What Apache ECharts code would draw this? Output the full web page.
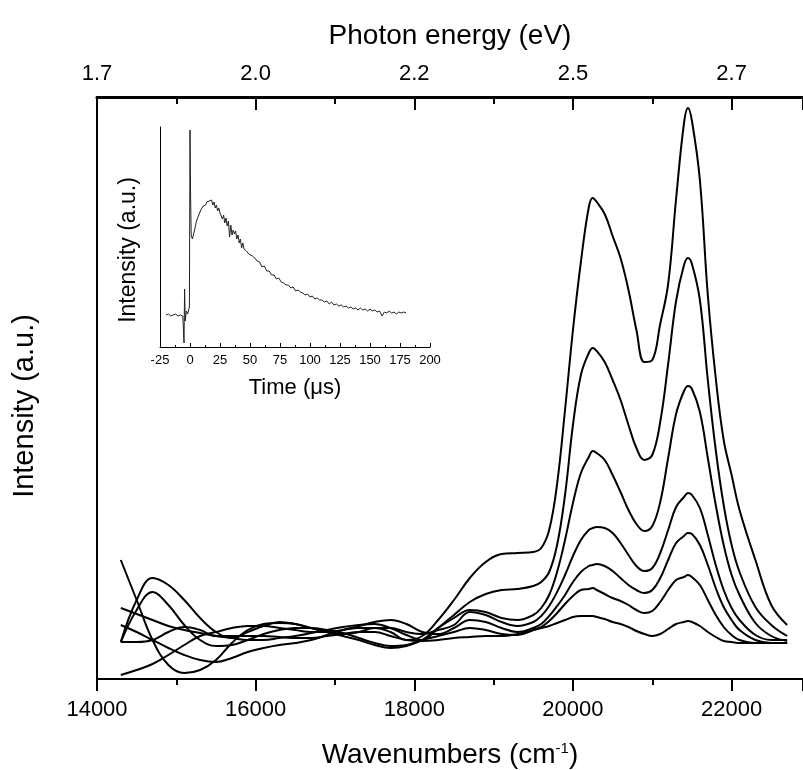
<!DOCTYPE html>
<html>
<head>
<meta charset="utf-8">
<script src="https://cdn.jsdelivr.net/npm/echarts@6/dist/echarts.min.js"></script>
<style>
html,body{margin:0;padding:0;background:#fff;}
#chart{width:803px;height:770px;}
</style>
</head>
<body>
<div id="chart"></div>
<script>
// ---- Data ----
const wavenumbers = [14300,14500,14700,14900,15100,15300,15500,15700,15900,16100,16300,16500,16700,16900,17100,17300,17500,17700,17900,18100,18300,18500,18700,18900,19100,19300,19500,
  19600,19700,19800,19900,20000,20100,20200,20250,20300,20400,20500,20600,20700,20800,20900,21000,21100,21200,21300,21400,21450,21500,21600,21700,21800,21900,22000,
  22100,22300,22500,22700];

const spectrumA = [4,9,15,24,34,43,47,51,53,53,51,49,47,47,49,51,51,47,39,43,59,79,101,117,125,126,127,
  131,149,195,269,349,417,472,481,477,465,443,421,389,349,317,319,355,395,480,556,571,558,499,384,301,239,204,
  169,119,74,54];
const spectrumB = [119,79,39,14,6,9,19,36,49,55,56,55,51,47,43,39,34,31,33,39,51,64,77,85,89,90,93,
  97,107,134,184,254,304,326,331,328,317,299,279,254,231,219,224,257,315,378,414,421,415,379,299,229,174,134,
  107,72,54,43];
const spectrumC = [71,65,59,53,49,46,43,41,39,39,41,43,46,49,52,54,55,51,44,39,51,61,69,67,61,59,64,
  71,84,107,139,176,206,222,228,226,219,204,187,169,155,148,153,177,221,265,288,293,290,267,221,174,134,104,
  84,56,43,38];
const spectrumD = [37,79,101,94,79,61,47,41,47,53,57,55,51,47,45,47,51,51,47,45,49,54,67,64,57,53,57,
  63,73,87,104,123,139,149,151,152,151,146,136,124,113,108,111,126,149,172,182,186,184,171,144,114,89,71,
  59,44,39,39];
const spectrumE = [54,47,39,31,24,19,17,21,27,31,34,36,39,44,49,53,57,59,55,47,45,51,59,57,51,47,51,
  55,63,73,84,97,107,113,114,115,113,108,101,94,89,86,89,101,119,136,143,146,145,134,114,91,72,59,
  49,39,36,36];
const spectrumF = [37,69,87,74,54,39,33,34,39,45,49,51,51,49,46,41,36,33,34,39,43,47,51,49,45,44,49,
  52,58,66,75,83,89,90,91,89,85,81,78,74,69,66,68,77,89,99,102,104,102,94,79,64,52,44,
  39,36,36,36];
const spectrumG = [37,37,39,47,52,49,43,43,43,43,42,41,41,43,45,47,47,43,39,38,39,41,42,43,43,45,49,
  51,53,56,59,62,63,63,63,62,60,57,55,52,48,45,43,45,50,55,57,58,57,53,47,42,38,37,
  36,36,36,36];

const wavenumberTickLabels = ['14000','16000','18000','20000','22000'];
const energyTickPositions = [14000,16000,18000,20000,22000];
const energyTickLabels = ['1.7','2.0','2.2','2.5','2.7'];

// inset: time-resolved decay
const timeUs = [-20,-18,-16,-14,-12,-10,-8,-6,-5,-4.5,-4,-3,-2,-1,-0.5,0,0.5,1,2,3,4,5,6,7,8,9,10,11,12,13,14,15,16,17,18,19,20,21,22,23,24,25,26,27,28,29,30,31,32,33,34,35,36,37,38,39,40,41,42,43,44,45,46,47,48,49,50,52,54,56,58,60,62,64,66,68,70,72,74,76,78,80,82,84,86,88,90,92,94,96,98,100,102,104,106,108,110,112,114,116,118,120,122,124,126,128,130,132,134,136,138,140,142,144,146,148,150,152,154,156,158,160,162,164,166,168,170,172,174,176,178,180];
const decaySignal = [32,33,31,32,33,31,32,31,4,58,26,36,33,34,40,217,150,112,108,113,118,124,128,131,134,137,139,141,143,142,145,143,146,144,147,142,145,139,142,136,139,134,135,128,132,124,129,121,126,110,122,112,117,113,116,108,112,104,108,99,104,98,100,96,97,93,95,91,89,86,85,80,81,76,76,72,72,68,69,65,64,62,62,59,60,56,57,55,54,52,53,50,51,48,49,47,47,45,46,43,45,42,43,41,42,40,41,39,40,38,39,37,39,37,38,36,38,36,37,35,36,31,35,34,36,34,35,33,35,34,35,34];

// ---- Chart ----
const FONT = 'Liberation Sans, Arial, Helvetica, sans-serif';
const chart = echarts.init(document.getElementById('chart'), null, {renderer:'canvas'});
const spectra = [spectrumA,spectrumB,spectrumC,spectrumD,spectrumE,spectrumF,spectrumG];
const energyMap = {}, waveMap = {};
energyTickPositions.forEach((p,i)=>{energyMap[p]=energyTickLabels[i]; waveMap[p]=wavenumberTickLabels[i];});

const mainSeries = spectra.map(s => ({
  type:'line', xAxisIndex:0, yAxisIndex:0, showSymbol:false, smooth:0.4,
  lineStyle:{color:'#000', width:2}, data: wavenumbers.map((w,i)=>[w,s[i]]),
  silent:true
}));

const option = {
  backgroundColor:'#fff',
  animation:false,
  textStyle:{fontFamily:FONT, color:'#000'},
  grid:[
    {left:97, top:97, right:0, bottom:91, containLabel:false, outerBoundsMode:'none'},
    {left:160, top:127, width:270, height:220, containLabel:false, outerBoundsMode:'none'}
  ],
  xAxis:[
    {gridIndex:0, type:'value', position:'bottom', min:14000, max:22900, interval:2000,
     name:'Wavenumbers (cm{sup|-1})', nameLocation:'middle', nameGap:62,
     nameTextStyle:{fontFamily:FONT, fontSize:28, color:'#000',
       rich:{sup:{fontSize:15, verticalAlign:'top', padding:[0,0,14,0], fontFamily:FONT, color:'#000'}}},
     axisLine:{show:true, onZero:false, lineStyle:{color:'#000', width:2}},
     axisTick:{show:true, inside:false, length:12, lineStyle:{color:'#000', width:2}},
     minorTick:{show:true, splitNumber:2, length:6, lineStyle:{color:'#000', width:2}},
     axisLabel:{show:true, margin:20, fontSize:22, fontFamily:FONT, color:'#000',
       formatter:(v)=> waveMap[v] !== undefined ? waveMap[v] : ''},
     splitLine:{show:false}
    },
    {gridIndex:0, type:'value', position:'top', min:14000, max:22900, interval:2000,
     name:'Photon energy (eV)', nameLocation:'middle', nameGap:47,
     nameTextStyle:{fontFamily:FONT, fontSize:28, color:'#000'},
     axisLine:{show:true, onZero:false, lineStyle:{color:'#000', width:3}},
     axisTick:{show:true, inside:true, length:13, lineStyle:{color:'#000', width:2}},
     minorTick:{show:true, splitNumber:2, length:7, lineStyle:{color:'#000', width:2}},
     axisLabel:{show:true, margin:12, fontSize:22, fontFamily:FONT, color:'#000',
       formatter:(v)=> energyMap[v] !== undefined ? energyMap[v] : ''},
     splitLine:{show:false}
    },
    {gridIndex:1, type:'value', min:-25, max:200, interval:25,
     name:'Time (\u03bcs)', nameLocation:'middle', nameGap:30,
     nameTextStyle:{fontFamily:FONT, fontSize:22, color:'#000'},
     axisLine:{show:true, onZero:false, lineStyle:{color:'#000', width:1}},
     axisTick:{show:true, inside:true, length:4, lineStyle:{color:'#000', width:1}},
     minorTick:{show:true, splitNumber:2, length:2, lineStyle:{color:'#000', width:1}},
     axisLabel:{show:true, margin:7, fontSize:13, fontFamily:FONT, color:'#000', showMinLabel:true, showMaxLabel:true,
       formatter:(v)=> String(v)},
     splitLine:{show:false}
    }
  ],
  yAxis:[
    {gridIndex:0, type:'value', min:0, max:582,
     name:'Intensity (a.u.)', nameLocation:'middle', nameGap:58,
     nameTextStyle:{fontFamily:FONT, fontSize:29, color:'#000', padding:[0,36,0,0]},
     axisLine:{show:true, onZero:false, lineStyle:{color:'#000', width:2}},
     axisTick:{show:false}, axisLabel:{show:false}, splitLine:{show:false}
    },
    {gridIndex:1, type:'value', min:0, max:220,
     name:'Intensity (a.u.)', nameLocation:'middle', nameGap:20,
     nameTextStyle:{fontFamily:FONT, fontSize:23, color:'#000', padding:[0,26,0,0]},
     axisLine:{show:true, onZero:false, lineStyle:{color:'#000', width:1}},
     axisTick:{show:false}, axisLabel:{show:false}, splitLine:{show:false}
    }
  ],
  series: mainSeries.concat([{
    type:'line', xAxisIndex:2, yAxisIndex:1, showSymbol:false, smooth:false,
    lineStyle:{color:'#222', width:1}, data: timeUs.map((t,i)=>[t,decaySignal[i]]), silent:true
  }])
};
chart.setOption(option);
</script>
</body>
</html>
